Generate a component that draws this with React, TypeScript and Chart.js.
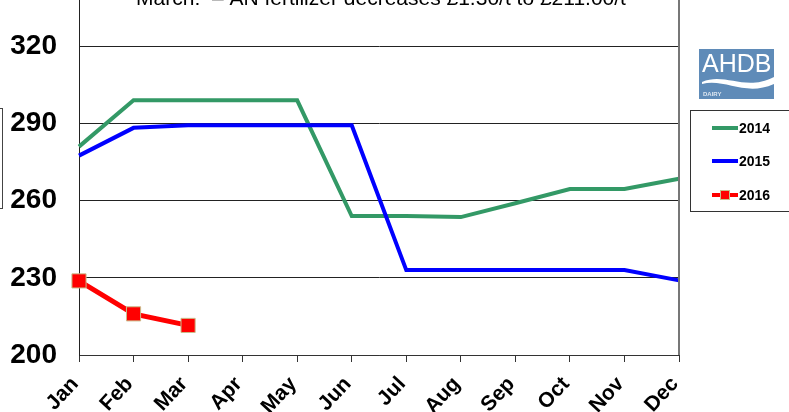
import React, { useEffect, useRef } from "react";
import { Chart, registerables } from "chart.js";

Chart.register(...registerables);

const months = ["Jan", "Feb", "Mar", "Apr", "May", "Jun", "Jul", "Aug", "Sep", "Oct", "Nov", "Dec"];
const series2014 = [281, 299, 299, 299, 299, 254, 254, 253.6, 259, 264.5, 264.5, 268.5];
const series2015 = [277.5, 288.3, 289.3, 289.3, 289.3, 289.3, 233, 233, 233, 233, 233, 229];
const series2016 = [228.8, 216, 211.5, null, null, null, null, null, null, null, null, null];
const yTicks = [200, 230, 260, 290, 320];
const titleText = "March:  \u2013 AN fertilizer decreases \u00a31.30/t to \u00a3211.00/t";
const legendLabels = ["2014", "2015", "2016"];

const GREEN = "#339966";
const BLUE = "#0000FF";
const RED = "#FF0000";

const AREA = { left: 79, right: 679, top: 0, bottom: 355, canvasH: 412 };

const fixLayoutPlugin = {
  id: "fixLayout",
  afterLayout(chart: any) {
    const ca = chart.chartArea;
    ca.left = AREA.left;
    ca.right = AREA.right;
    ca.top = AREA.top;
    ca.bottom = AREA.bottom;
    ca.width = AREA.right - AREA.left;
    ca.height = AREA.bottom - AREA.top;
    const x = chart.scales.x;
    const y = chart.scales.y;
    x.left = AREA.left;
    x.right = AREA.right;
    x.width = AREA.right - AREA.left;
    x.top = AREA.bottom;
    x.bottom = AREA.canvasH;
    x.height = AREA.canvasH - AREA.bottom;
    y.left = 0;
    y.right = AREA.left;
    y.width = AREA.left;
    y.top = AREA.top;
    y.bottom = AREA.bottom;
    y.height = AREA.bottom - AREA.top;
    x.configure();
    y.configure();
  },
};

const overlayPlugin = {
  id: "overlay",
  afterDraw(chart: any) {
    const ctx = chart.ctx;
    const area = chart.chartArea;
    ctx.save();
    // right border of plot
    ctx.strokeStyle = "#777";
    ctx.lineWidth = 2;
    ctx.beginPath();
    ctx.moveTo(area.right, area.top);
    ctx.lineTo(area.right, area.bottom);
    ctx.stroke();

    // title (cut at top)
    ctx.fillStyle = "#000";
    ctx.font = '21px "Liberation Sans", Arial, sans-serif';
    ctx.textAlign = "center";
    ctx.textBaseline = "alphabetic";
    ctx.fillText(titleText, 381, 5);

    // left partial box
    ctx.strokeStyle = "#444";
    ctx.lineWidth = 1;
    ctx.strokeRect(-50.5, 108.5, 53, 100);

    // legend box
    ctx.strokeStyle = "#333";
    ctx.strokeRect(690.5, 110.5, 130, 101);
    const colors = [GREEN, BLUE, RED];
    const rows = [128, 161, 195];
    ctx.font = 'bold 14px "Liberation Sans", Arial, sans-serif';
    ctx.textAlign = "left";
    ctx.textBaseline = "middle";
    for (let i = 0; i < 3; i++) {
      ctx.strokeStyle = colors[i];
      ctx.lineWidth = 4;
      ctx.beginPath();
      ctx.moveTo(712, rows[i]);
      ctx.lineTo(738, rows[i]);
      ctx.stroke();
      if (i === 2) {
        ctx.fillStyle = RED;
        ctx.fillRect(721, rows[i] - 4, 8, 8);
        ctx.strokeStyle = "#C9BC8A";
        ctx.lineWidth = 1;
        ctx.strokeRect(720.5, rows[i] - 4.5, 9, 9);
      }
      ctx.fillStyle = "#000";
      ctx.fillText(legendLabels[i], 739, rows[i] + 1);
    }

    // logo
    ctx.fillStyle = "#5F8BB8";
    ctx.fillRect(699, 49, 75, 50);
    ctx.fillStyle = "#FFF";
    ctx.font = '25px "Liberation Sans", Arial, sans-serif';
    ctx.textAlign = "left";
    ctx.textBaseline = "alphabetic";
    ctx.fillText("AHDB", 702, 72);
    ctx.beginPath();
    ctx.moveTo(702, 82);
    ctx.bezierCurveTo(725, 72, 745, 92, 774, 77);
    ctx.lineTo(774, 84);
    ctx.bezierCurveTo(745, 97, 725, 78, 702, 84);
    ctx.closePath();
    ctx.fill();
    ctx.fillStyle = "#DDE6F0";
    ctx.font = 'bold 6px "Liberation Sans", Arial, sans-serif';
    ctx.fillText("DAIRY", 703, 96);
    ctx.restore();
  },
};

export default function App() {
  const ref = useRef<HTMLCanvasElement | null>(null);
  useEffect(() => {
    if (!ref.current) return;
    const chart = new Chart(ref.current, {
      type: "line",
      data: {
        labels: months,
        datasets: [
          {
            label: "2014",
            data: series2014,
            borderColor: GREEN,
            backgroundColor: GREEN,
            borderWidth: 4,
            pointRadius: 0,
            tension: 0,
            order: 3,
          },
          {
            label: "2015",
            data: series2015,
            borderColor: BLUE,
            backgroundColor: BLUE,
            borderWidth: 4,
            pointRadius: 0,
            tension: 0,
            order: 2,
          },
          {
            label: "2016",
            data: series2016,
            borderColor: RED,
            backgroundColor: RED,
            borderWidth: 5,
            pointStyle: "rect",
            pointRadius: 10,
            pointBorderColor: "#C9BC8A",
            pointBorderWidth: 1,
            pointBackgroundColor: RED,
            tension: 0,
            spanGaps: false,
            order: 1,
          },
        ],
      },
      options: {
        responsive: false,
        animation: false,
        layout: { padding: { left: 0, right: 110, top: 0, bottom: 0 } },
        plugins: { legend: { display: false }, tooltip: { enabled: false }, title: { display: false } },
        scales: {
          x: {
            offset: false,
            grid: { display: true, drawOnChartArea: false, drawTicks: true, tickLength: 7, color: "#333" },
            border: { display: true, color: "#333", width: 1 },
            ticks: {
              autoSkip: false,
              minRotation: 47,
              maxRotation: 47,
              padding: 10,
              labelOffset: -4,
              color: "#000",
              font: { family: '"Liberation Sans", Arial, sans-serif', size: 21, weight: "bold" },
            },
          },
          y: {
            min: 200,
            max: 338,
            grid: { display: true, drawTicks: false, color: "#222", lineWidth: 1 },
            border: { display: true, color: "#222", width: 1 },
            ticks: {
              padding: 22,
              color: "#000",
              font: { family: '"Liberation Sans", Arial, sans-serif', size: 28, weight: "bold" },
            },
            afterBuildTicks(scale: any) {
              scale.ticks = yTicks.map((v) => ({ value: v }));
            },
          },
        },
      },
      plugins: [fixLayoutPlugin, overlayPlugin],
    } as any);
    return () => chart.destroy();
  }, []);
  return (
    <div style={{ position: "absolute", left: 0, top: 0, width: 789, height: 412, background: "#fff" }}>
      <canvas ref={ref} width={789} height={412} style={{ width: 789, height: 412 }} />
    </div>
  );
}
